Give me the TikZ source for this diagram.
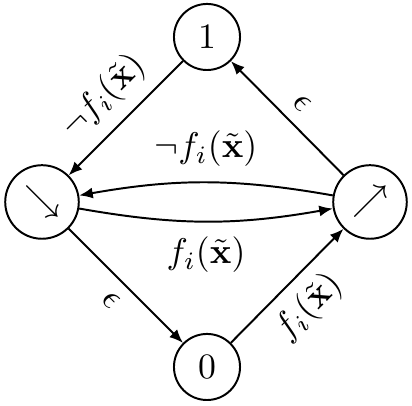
\documentclass[tikz,border=0pt]{standalone}
\usetikzlibrary{arrows.meta}
\begin{document}
\begin{tikzpicture}[x=0.28pt,y=0.28pt,
  state/.style={draw, circle, line width=0.55pt, inner sep=0pt},
  edge/.style={-{Latex[length=3.8pt,width=3.1pt]}, line width=0.55pt}]
\useasboundingbox (0,0) rectangle (412,406);
\node[state, minimum size=18.5pt] (one) at (207,369) {$1$};
\node[state, minimum size=18.5pt] (zero) at (207,39) {$0$};
\node[state, minimum size=20.6pt] (dn) at (42,204) {$\searrow$};
\node[state, minimum size=20.6pt] (up) at (370,204) {$\nearrow$};
\draw[edge] (one) -- node[midway, sloped, above] {$\neg f_i(\tilde{\mathbf{x}})$} (dn);
\draw[edge] (up) -- node[midway, sloped, above] {$\epsilon$} (one);
\draw[edge] (dn) -- node[midway, sloped, below] {$\epsilon$} (zero);
\draw[edge] (zero) -- node[midway, sloped, below] {$f_i(\tilde{\mathbf{x}})$} (up);
\draw[edge] (up) to[bend right=10] node[midway, above=0.8pt] {$\neg f_i(\tilde{\mathbf{x}})$} (dn);
\draw[edge] (dn) to[bend right=10] node[midway, below=0.8pt] {$f_i(\tilde{\mathbf{x}})$} (up);
\end{tikzpicture}
\end{document}
